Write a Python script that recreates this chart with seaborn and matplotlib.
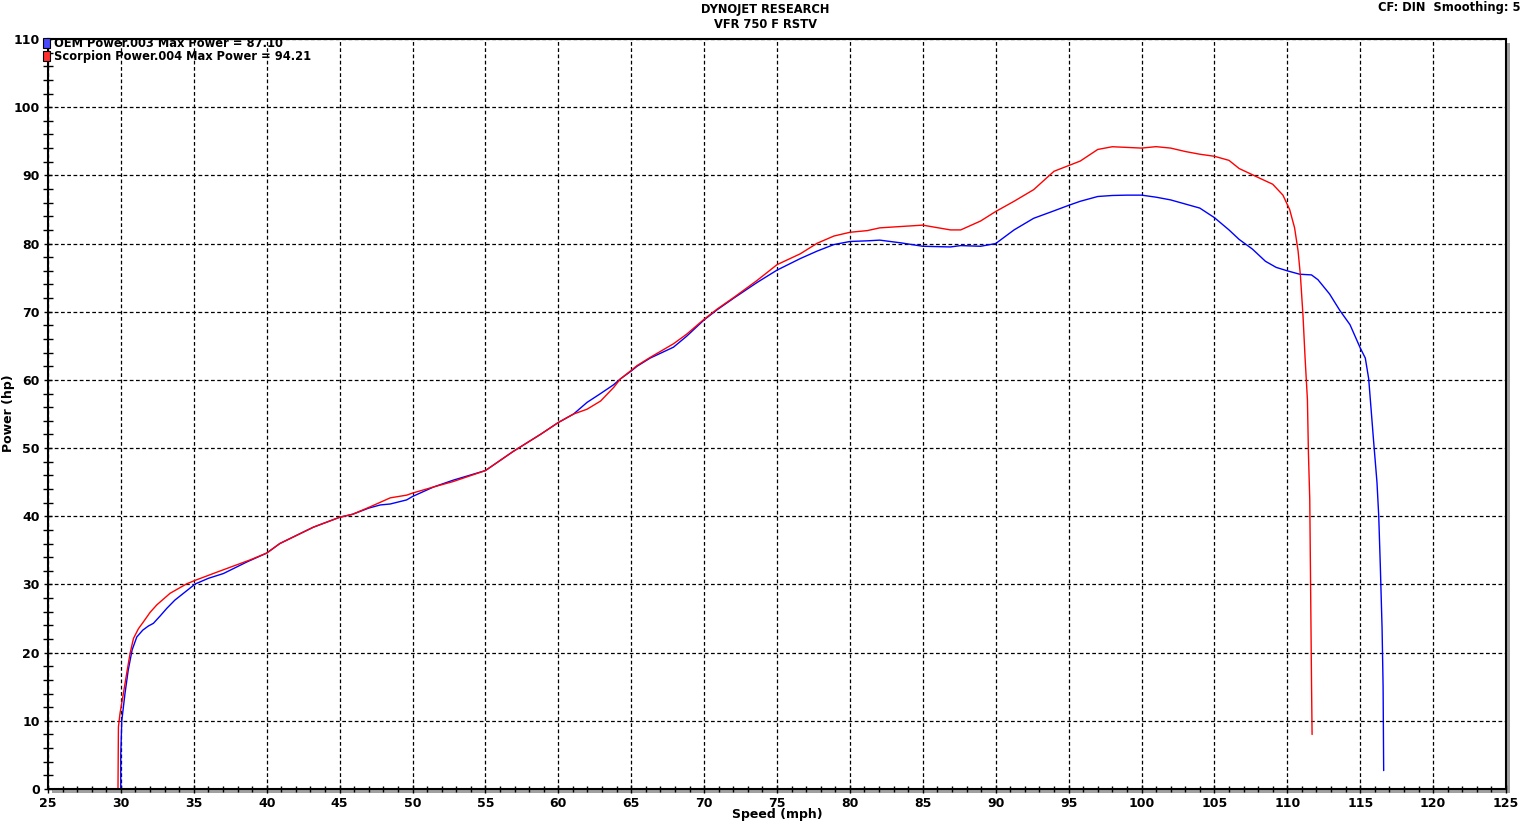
import numpy as np
import pandas as pd
import matplotlib
matplotlib.use("Agg")
import matplotlib.pyplot as plt
import matplotlib.transforms as mtransforms
from matplotlib.patches import Patch, Rectangle
import seaborn as sns

# ---------------- data ----------------
oem_speed = [29.99, 29.99, 30.06, 30.28, 30.5, 30.77, 31.09, 31.5, 31.88, 32.23, 32.7, 33.15,
             33.7, 34.29, 35.09, 36.0, 37.03, 38.64, 40.0, 40.9, 43.2, 45.0, 45.9, 47.0, 47.79,
             48.47, 49.6, 50.0, 51.45, 52.8, 55.0, 56.9, 58.77, 60.0, 61.05, 61.97, 62.9, 63.8,
             64.26, 65.0, 65.4, 66.3, 67.9, 68.8, 70.0, 70.9, 72.04, 73.64, 75.0, 76.6, 77.76,
             78.9, 80.0, 81.2, 82.05, 83.5, 85.0, 86.9, 87.6, 88.96, 90.0, 91.26, 92.6, 94.0,
             95.0, 95.8, 97.0, 98.0, 99.0, 100.0, 101.0, 102.0, 103.0, 104.0, 105.0, 106.0,
             106.7, 107.6, 108.5, 109.24, 110.0, 110.85, 111.66, 112.1, 112.9, 113.6, 114.3,
             115.0, 115.35, 115.58, 115.74, 115.92, 116.15, 116.27, 116.38, 116.5, 116.57, 116.61]
oem_power = [0.0, 5.0, 10.0, 14.0, 17.4, 20.4, 22.3, 23.3, 23.9, 24.3, 25.4, 26.5,
             27.7, 28.7, 30.06, 30.9, 31.6, 33.3, 34.6, 36.0, 38.4, 39.85, 40.3, 41.2, 41.66,
             41.8, 42.4, 42.9, 44.3, 45.3, 46.7, 49.5, 52.0, 53.75, 55.0, 56.7, 58.0, 59.3,
             60.15, 61.3, 62.0, 63.2, 64.8, 66.4, 68.8, 70.3, 72.0, 74.3, 76.1, 77.8, 78.9,
             79.85, 80.3, 80.4, 80.5, 80.1, 79.6, 79.5, 79.7, 79.6, 80.0, 82.0, 83.7, 84.8,
             85.6, 86.2, 86.9, 87.05, 87.1, 87.1, 86.8, 86.4, 85.8, 85.2, 83.8, 82.0,
             80.6, 79.2, 77.4, 76.5, 76.0, 75.5, 75.4, 74.7, 72.6, 70.2, 68.1,
             64.7, 63.2, 60.2, 55.9, 51.0, 45.0, 40.1, 32.7, 23.6, 15.1, 2.7]

scorpion_speed = [29.8, 29.83, 29.94, 30.17, 30.4, 30.63, 30.86, 31.2, 31.54, 32.0, 32.46, 33.37,
                  34.52, 35.09, 36.58, 37.72, 38.86, 40.0, 40.9, 43.2, 45.0, 45.9, 47.0, 47.79,
                  48.47, 49.6, 50.0, 51.45, 52.8, 55.0, 56.9, 58.77, 60.0, 61.05, 61.97, 62.9,
                  63.8, 64.26, 65.0, 65.4, 66.3, 67.9, 68.8, 70.0, 70.9, 72.04, 73.64, 75.0, 76.6,
                  77.76, 78.9, 80.0, 81.2, 82.05, 83.5, 85.0, 85.8, 86.9, 87.6, 88.96, 90.0, 91.26,
                  92.6, 94.0, 95.8, 97.0, 98.0, 99.0, 100.0, 101.0, 102.0, 103.0, 104.0, 105.0,
                  106.0, 106.7, 107.5, 108.09, 109.0, 109.7, 110.16, 110.5, 110.74, 110.9, 111.08,
                  111.22, 111.38, 111.45, 111.54, 111.59, 111.66, 111.7]
scorpion_power = [0.0, 9.1, 11.1, 14.0, 17.0, 19.9, 22.07, 23.5, 24.5, 25.9, 27.0, 28.7,
                  30.1, 30.6, 31.8, 32.7, 33.6, 34.6, 36.0, 38.4, 39.85, 40.3, 41.3, 42.05,
                  42.7, 43.1, 43.4, 44.3, 45.1, 46.7, 49.5, 52.0, 53.75, 55.0, 55.7, 56.9,
                  58.9, 60.15, 61.4, 62.1, 63.3, 65.3, 66.7, 68.9, 70.4, 72.1, 74.6, 76.9, 78.5,
                  80.05, 81.1, 81.65, 81.9, 82.3, 82.5, 82.7, 82.4, 82.0, 82.0, 83.3, 84.7, 86.2,
                  87.9, 90.6, 92.1, 93.8, 94.2, 94.1, 94.0, 94.21, 94.0, 93.5, 93.1, 92.8,
                  92.2, 91.0, 90.2, 89.6, 88.7, 87.1, 85.0, 82.3, 78.9, 75.3, 69.3,
                  63.2, 57.1, 49.2, 42.5, 31.6, 15.8, 8.0]

series_names = ["OEM", "Scorpion"]
legend_labels = ["OEM Power.003 Max Power = 87.10",
                 "Scorpion Power.004 Max Power = 94.21"]
series_colors = ["#0000ff", "#ff0000"]
legend_box_colors = ["#4848ff", "#ff3030"]
x_ticks = list(range(25, 126, 5))
y_ticks = list(range(0, 111, 10))

df = pd.concat([
    pd.DataFrame({"speed": oem_speed, "power": oem_power, "run": series_names[0]}),
    pd.DataFrame({"speed": scorpion_speed, "power": scorpion_power, "run": series_names[1]}),
], ignore_index=True)

# ---------------- figure ----------------
sns.set_style("white")
plt.rcParams["font.family"] = ["DejaVu Sans"]
plt.rcParams["font.weight"] = "bold"
plt.rcParams["text.color"] = "black"
plt.rcParams["axes.labelcolor"] = "black"
plt.rcParams["xtick.color"] = "black"
plt.rcParams["ytick.color"] = "black"

W, H = 1530, 822
fig = plt.figure(figsize=(W / 100, H / 100), dpi=100)
left, right, top, bottom = 48, 1506, 39, 789
ax = fig.add_axes([left / W, 1 - bottom / H, (right - left) / W, (bottom - top) / H])

sns.lineplot(data=df, x="speed", y="power", hue="run", estimator=None, sort=False,
             palette=dict(zip(series_names, series_colors)), linewidth=1.0,
             legend=False, ax=ax)

ax.set_xlim(25, 125)
ax.set_ylim(0, 110)
ax.set_xticks(x_ticks)
ax.set_yticks(y_ticks)
ax.set_xticks(np.arange(25, 126, 1), minor=True)
ax.set_yticks(np.arange(0, 111, 2), minor=True)
ax.tick_params(axis="both", which="both", direction="inout", color="black",
               labelcolor="black", labelsize=9, width=1, bottom=True, left=True,
               top=False, right=False)
ax.tick_params(axis="both", which="major", length=6, pad=3)
ax.tick_params(axis="x", which="minor", length=5)
ax.tick_params(axis="y", which="minor", length=7)
for lbl in ax.get_xticklabels() + ax.get_yticklabels():
    lbl.set_fontweight("bold")

ax.grid(True, which="major", color="black", linestyle=(0, (3, 2)), linewidth=0.9)
ax.set_axisbelow(True)
for s in ax.spines.values():
    s.set_color("black")
    s.set_linewidth(1.5)

ax.set_xlabel("Speed (mph)", fontsize=9, fontweight="bold", color="black")
ax.set_ylabel("Power (hp)", fontsize=9, fontweight="bold", color="black")
ax.xaxis.label.set_verticalalignment("center")
ax.yaxis.label.set_verticalalignment("center")
ax.xaxis.set_label_coords((777 - left) / (right - left), -(814 - bottom) / (bottom - top))
ax.yaxis.set_label_coords(-(left - 9) / (right - left), (bottom - 413) / (bottom - top))

# drop shadow
shadow_tr = mtransforms.offset_copy(ax.transAxes, fig=fig, x=4, y=-4, units="dots")
shadow = Rectangle((0, 0), 1, 1, transform=shadow_tr, facecolor="#a0a0a0",
                   edgecolor="none", zorder=-5)
fig.patches.append(shadow)
ax.set_facecolor("white")

# legend
handles = [Patch(facecolor=c, edgecolor="black", linewidth=0.8) for c in legend_box_colors]
leg = ax.legend(handles, legend_labels, loc="upper left", bbox_to_anchor=(-0.0035, 1.003),
                frameon=False, borderpad=0, borderaxespad=0, handlelength=0.6,
                handleheight=0.95, handletextpad=0.35, labelspacing=0.05,
                prop={"size": 8.3, "weight": "bold"}, labelcolor="black")

# titles
fig.text(765 / W, 1 - 10 / H, "DYNOJET RESEARCH", ha="center", va="center",
         fontsize=8.3, fontweight="bold", color="black")
fig.text(765 / W, 1 - 25 / H, "VFR 750 F RSTV", ha="center", va="center",
         fontsize=8.3, fontweight="bold", color="black")
fig.text(1520 / W, 1 - 7 / H, "CF: DIN  Smoothing: 5", ha="right", va="center",
         fontsize=8.3, fontweight="bold", color="black")

fig.savefig("out.png", dpi=100, facecolor="white")
